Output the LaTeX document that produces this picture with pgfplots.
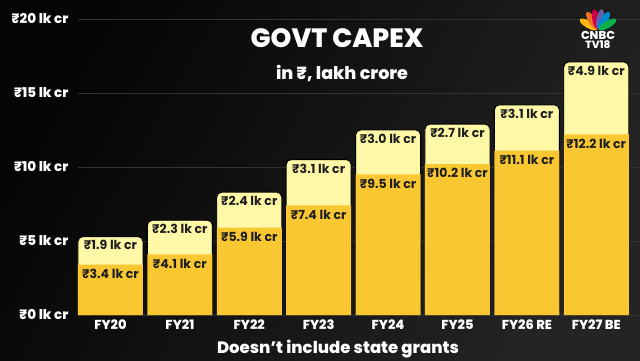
\documentclass[border=0pt]{standalone}
\usepackage{pgfplots}
\pgfplotsset{compat=1.18}
\usepackage{fontspec}
\setmainfont{Poppins}[BoldFont={Poppins ExtraBold}]
\newfontfamily\semib{Poppins Bold}
\definecolor{topc}{HTML}{FFF8A6}
\definecolor{botc}{HTML}{F8C731}
\definecolor{labc}{HTML}{1E1E1E}
\definecolor{gridc}{HTML}{333333}
\definecolor{bgl}{HTML}{050505}
\definecolor{bgr}{HTML}{242424}
\begin{document}
\begin{tikzpicture}[x=1pt,y=1pt]
\useasboundingbox (0,0) rectangle (640,360);
\shade[left color=bgl, right color=bgr, shading angle=60] (0,0) rectangle (640,360);
\begin{axis}[
  at={(78pt,45pt)}, anchor=south west, scale only axis,
  width=562pt, height=296pt,
  xmin=-0.468, xmax=7.63, ymin=0, ymax=20,
  axis line style={draw=none}, major tick length=0pt,
  ymajorgrids, grid style={color=gridc, line width=0.8pt},
  xtick={0,...,7},
  xticklabels={FY20,FY21,FY22,FY23,FY24,FY25,FY26 RE,FY27 BE},
  ytick={0,5,10,15,20},
  yticklabels={₹0 lk cr,₹5 lk cr,₹10 lk cr,₹15 lk cr,₹20 lk cr},
  yticklabel style={anchor=east, xshift=-6pt, font=\bfseries\fontsize{13.5}{15}\selectfont, text=white},
  xticklabel style={yshift=-1pt, font=\bfseries\fontsize{13}{14}\selectfont, text=white},
  clip=false,
]
\addplot[ybar, bar width=0.937, bar shift=0pt, fill=topc, draw=black, line width=0.9pt, rounded corners=5pt,
  point meta=explicit symbolic,
  nodes near coords={₹\pgfplotspointmeta\ lk cr},
  every node near coord/.append style={anchor=north, yshift=-0.3pt, font=\semib\fontsize{12.5}{14}\selectfont, text=labc}]
coordinates {(0,5.3)[1.9] (1,6.4)[2.3] (2,8.3)[2.4] (3,10.5)[3.1] (4,12.5)[3.0] (5,12.9)[2.7] (6,14.2)[3.1] (7,17.1)[4.9]};
\addplot[ybar, bar width=0.937, bar shift=0pt, fill=botc, draw=none,
  point meta=explicit symbolic,
  nodes near coords={₹\pgfplotspointmeta\ lk cr},
  every node near coord/.append style={anchor=north, yshift=-1pt, font=\semib\fontsize{12.5}{14}\selectfont, text=labc}]
coordinates {(0,3.4)[3.4] (1,4.1)[4.1] (2,5.9)[5.9] (3,7.4)[7.4] (4,9.5)[9.5] (5,10.2)[10.2] (6,11.1)[11.1] (7,12.2)[12.2]};
\end{axis}
\node[font=\bfseries\fontsize{26.5}{30}\selectfont, text=white] at (337,322) {GOVT CAPEX};
\node[font=\bfseries\fontsize{17.5}{20}\selectfont, text=white] at (342,287) {in ₹, lakh crore};
\node[font=\bfseries\fontsize{16.5}{19}\selectfont, text=white] at (338,11) {Doesn’t include state grants};
% logo
\begin{scope}[shift={(598,330)}]
  \foreach \ang/\col in {150/FCB711,122/F37021,101/CC004C,79/6460AA,58/0089D0,30/0DB14B}{
    \definecolor{pc}{HTML}{\col}
    \fill[pc, rotate=\ang-90] (0,11) ellipse (3.6 and 10);
  }
\end{scope}
\node[font=\bfseries\fontsize{11.5}{13}\selectfont, text=white, inner sep=0] at (598,325) {CNBC};
\node[font=\bfseries\fontsize{10.5}{12}\selectfont, text=white, inner sep=0] at (598,315.5) {TV18};
\end{tikzpicture}
\end{document}
